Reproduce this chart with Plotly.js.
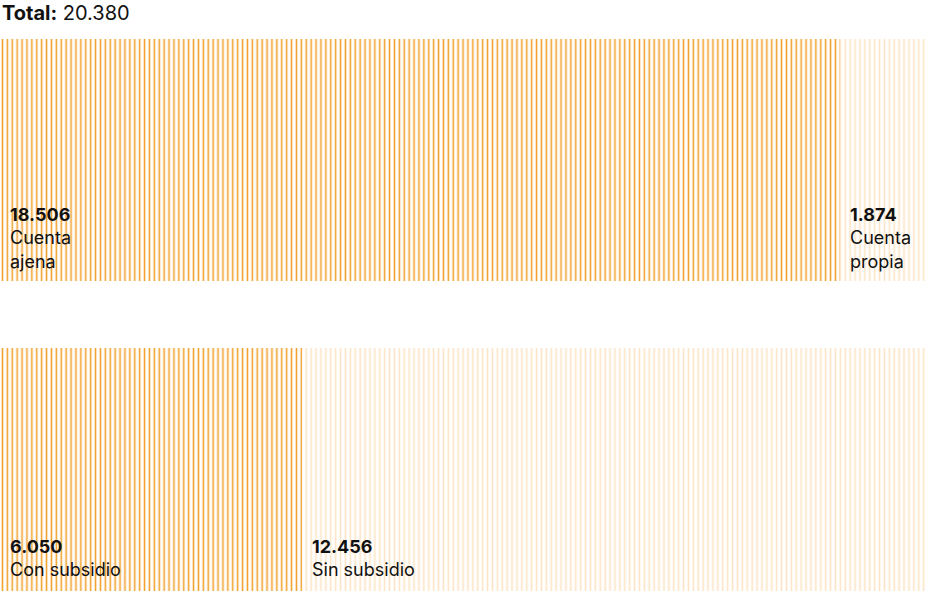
<!DOCTYPE html>
<html>
<head>
<meta charset="utf-8">
<script src="https://cdn.plot.ly/plotly-3.0.1.min.js"></script>
<style>html,body{margin:0;padding:0;background:#fff}#chart{width:944px;height:603px}</style>
</head>
<body>
<div id="chart"></div>
<script>
const totalValue = 20380;
const topLabels = ['Cuenta<br>ajena', 'Cuenta<br>propia'];
const topValues = [18506, 1874];
const bottomLabels = ['Con subsidio', 'Sin subsidio'];
const bottomValues = [6050, 12456];

const darkColor = '#F2A02A';
const lightColor = '#FCE4C4';
const segColors = [darkColor, lightColor];

function fmt(n) {
  return String(n).replace(/\B(?=(\d{3})+(?!\d))/g, '.');
}

const traces = [];
function addRow(values, xa, ya, name) {
  values.forEach((v, i) => {
    traces.push({
      type: 'bar', orientation: 'h',
      x: [v], y: [name], xaxis: xa, yaxis: ya,
      marker: {
        color: '#ffffff',
        line: {width: 0},
        pattern: {shape: '|', size: 4.9, solidity: 0.32, fgcolor: segColors[i], bgcolor: '#ffffff', fgopacity: 1}
      },
      hoverinfo: 'skip', showlegend: false
    });
  });
}
addRow(topValues, 'x', 'y', 'top');
addRow(bottomValues, 'x2', 'y2', 'bottom');

const H = 603, mt = 39, mb = 12;
const plotH = H - mt - mb;
function py(pix) { return 1 - (pix - mt) / plotH; }

const annotations = [];
function addLabels(values, labels, xref, bottomPix) {
  let start = 0;
  values.forEach((v, i) => {
    annotations.push({
      xref: xref, yref: 'paper', x: start, y: py(bottomPix),
      xanchor: 'left', yanchor: 'bottom', xshift: 8, align: 'left',
      showarrow: false,
      text: '<b>' + fmt(v) + '</b><br>' + labels[i],
      font: {family: 'Inter, "Noto Sans", sans-serif', size: 18, color: '#111'}
    });
    start += v;
  });
}
addLabels(topValues, topLabels, 'x', 274);
addLabels(bottomValues, bottomLabels, 'x2', 582);

const layout = {
  width: 944, height: 603,
  margin: {l: 0, r: 19, t: mt, b: mb},
  paper_bgcolor: '#fff', plot_bgcolor: '#fff',
  barmode: 'stack', bargap: 0,
  showlegend: false,
  xaxis: {range: [0, topValues.reduce((a, b) => a + b, 0)], visible: false, fixedrange: true},
  yaxis: {domain: [1 - 242 / plotH, 1], range: [-0.5, 0.5], visible: false},
  xaxis2: {anchor: 'y2', range: [0, bottomValues.reduce((a, b) => a + b, 0)], visible: false},
  yaxis2: {anchor: 'x2', domain: [0, 1 - 309 / plotH], range: [-0.5, 0.5], visible: false},
  annotations: annotations.concat([{
    xref: 'paper', yref: 'paper', x: 0, y: py(27), xanchor: 'left', yanchor: 'bottom',
    showarrow: false, align: 'left',
    text: '<b>Total:</b> ' + fmt(totalValue),
    font: {family: 'Inter, "Noto Sans", sans-serif', size: 20, color: '#111'}
  }])
};

Plotly.newPlot('chart', traces, layout, {displayModeBar: false, staticPlot: true});
</script>
</body>
</html>
